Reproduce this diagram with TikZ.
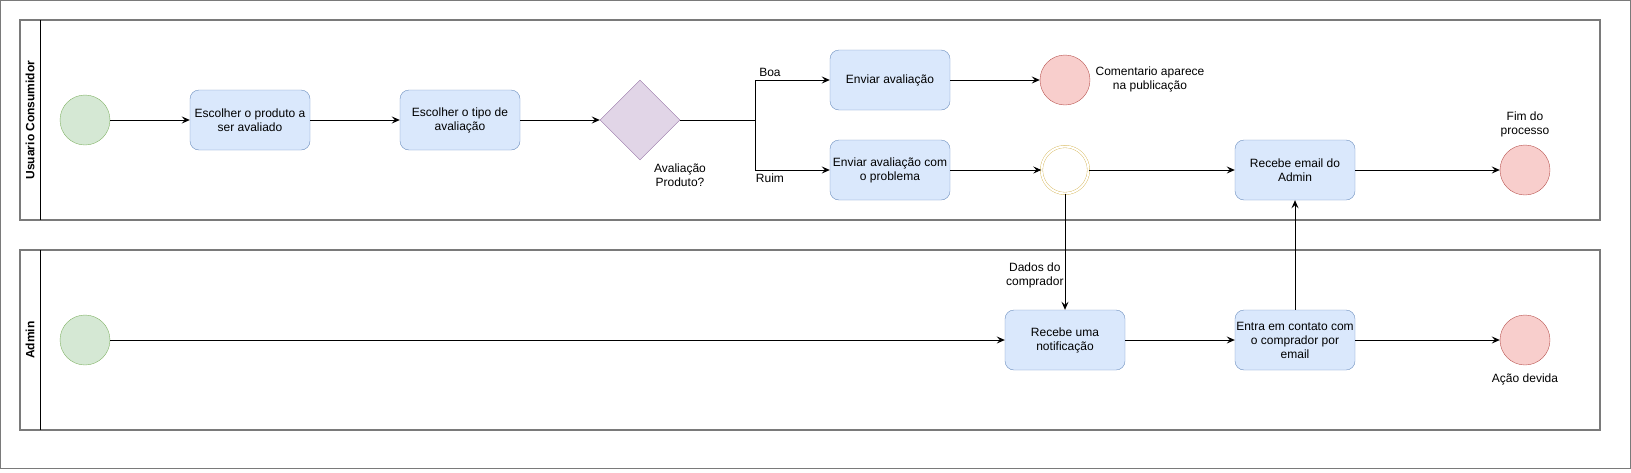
\documentclass[tikz,border=0pt]{standalone}
\usepackage{fontspec}
\setmainfont{Liberation Sans}
\usepackage{xcolor}
\usetikzlibrary{arrows.meta,shapes.geometric}

\definecolor{tarefaFill}{HTML}{DAE8FC}
\definecolor{tarefaLinha}{HTML}{6C8EBF}
\definecolor{inicioFill}{HTML}{D5E8D4}
\definecolor{inicioLinha}{HTML}{82B366}
\definecolor{fimFill}{HTML}{F8CECC}
\definecolor{fimLinha}{HTML}{B85450}
\definecolor{decisaoFill}{HTML}{E1D5E7}
\definecolor{decisaoLinha}{HTML}{9673A6}
\definecolor{eventoLinha}{HTML}{D6B656}
\definecolor{raiaLinha}{HTML}{7A7A7A}

\tikzset{
  tarefa/.style={draw=tarefaLinha,fill=tarefaFill,rounded corners=9pt,minimum width=120pt,minimum height=60pt,align=center,inner sep=1pt},
  inicio/.style={circle,draw=inicioLinha,fill=inicioFill,minimum size=50pt,inner sep=0pt},
  fim/.style={circle,draw=fimLinha,fill=fimFill,minimum size=50pt,inner sep=0pt},
  evento/.style={circle,draw=eventoLinha,double=white,double distance=2pt,fill=white,minimum size=47pt,inner sep=0pt},
  decisao/.style={diamond,draw=decisaoLinha,fill=decisaoFill,minimum width=80pt,minimum height=80pt,inner sep=0pt},
  rotulo/.style={align=center,inner sep=1pt},
  raia/.style={draw=raiaLinha,line width=1.5pt},
  fluxo/.style={->,line width=1pt}
}

\begin{document}
\begin{tikzpicture}[x=1pt,y=-1pt,>={Stealth[length=8pt,width=7pt,inset=3pt]},font=\fontsize{12}{14}\selectfont]
  \useasboundingbox (0,0) rectangle (1631,472);
  \draw[raiaLinha,line width=1pt] (0.5,0.5) rectangle (1630,468.5);

  % raias
  \draw[raia] (20,20) rectangle (1600,220);
  \draw[line width=1pt] (40,20) -- (40,220);
  \node[rotate=90,font=\fontsize{12}{14}\selectfont\bfseries] (raiaUsuario) at (30,120) {Usuario Consumidor};
  \draw[raia] (20,250) rectangle (1600,430);
  \draw[line width=1pt] (40,250) -- (40,430);
  \node[rotate=90,font=\fontsize{12}{14}\selectfont\bfseries] (raiaAdmin) at (30,340) {Admin};

  % usuario
  \node[inicio] (inicioUsuario) at (85,120) {};
  \node[tarefa] (escolherProduto) at (250,120) {Escolher o produto a\\ser avaliado};
  \node[tarefa] (escolherTipo) at (460,120) {Escolher o tipo de\\avaliação};
  \node[decisao] (avaliacao) at (640,120) {};
  \node[rotulo] (avaliacaoTxt) at (680,175) {Avaliação\\Produto?};
  \coordinate (divide) at (755,120);
  \node[tarefa] (enviar) at (890,80) {Enviar avaliação};
  \node[tarefa] (enviarProblema) at (890,170) {Enviar avaliação com\\o problema};
  \node[fim] (fimComentario) at (1065,80) {};
  \node[rotulo] (comentarioTxt) at (1150,79) {Comentario aparece\\na publicação};
  \node[evento] (espera) at (1065,170) {};
  \node[tarefa] (recebeEmail) at (1295,170) {Recebe email do\\Admin};
  \node[fim] (fimProcesso) at (1525,170) {};
  \node[rotulo] (fimTxt) at (1525,124) {Fim do\\processo};

  % admin
  \node[inicio] (inicioAdmin) at (85,340) {};
  \node[tarefa] (notificacao) at (1065,340) {Recebe uma\\notificação};
  \node[tarefa] (contato) at (1295,340) {Entra em contato com\\o comprador por\\email};
  \node[fim] (fimAcao) at (1525,340) {};
  \node[rotulo] (acaoTxt) at (1525,379) {Ação devida};

  % fluxos
  \draw[fluxo] (inicioUsuario) -- (escolherProduto);
  \draw[fluxo] (escolherProduto) -- (escolherTipo);
  \draw[fluxo] (escolherTipo) -- (avaliacao);
  \draw[line width=1pt] (avaliacao.east) -- (divide);
  \draw[fluxo] (divide) |- (enviar.west) node[pos=0.6,above=2pt,rotulo] (boaTxt) {Boa};
  \draw[fluxo] (divide) |- (enviarProblema.west) node[pos=0.6,below=2pt,rotulo] (ruimTxt) {Ruim};
  \draw[fluxo] (enviar) -- (fimComentario);
  \draw[fluxo] (enviarProblema) -- (espera);
  \draw[fluxo] (espera) -- (recebeEmail);
  \draw[fluxo] (recebeEmail) -- (fimProcesso);
  \draw[fluxo] (espera) -- (notificacao) node[pos=0.7,left=0pt,rotulo] (dadosTxt) {Dados do\\comprador};
  \draw[fluxo] (inicioAdmin) -- (notificacao);
  \draw[fluxo] (notificacao) -- (contato);
  \draw[fluxo] (contato) -- (recebeEmail);
  \draw[fluxo] (contato) -- (fimAcao);
\end{tikzpicture}
\end{document}
